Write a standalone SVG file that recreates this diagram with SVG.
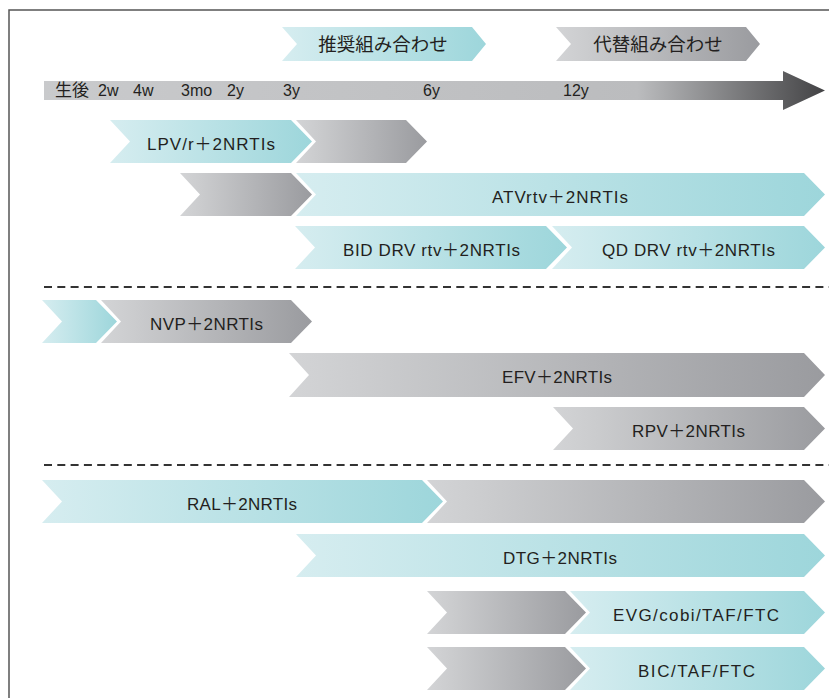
<svg xmlns="http://www.w3.org/2000/svg" width="829" height="698" viewBox="0 0 829 698">
<style>
.t{font-family:"Liberation Sans","Noto Sans CJK JP",sans-serif;font-size:17px;fill:#231f20;text-anchor:middle}
.ax{font-family:"Liberation Sans","Noto Sans CJK JP",sans-serif;font-size:16px;fill:#231f20}
.lg{font-family:"Noto Sans CJK JP",sans-serif;font-size:18.5px;fill:#231f20;text-anchor:middle}
.c{fill:url(#gc)}
.g{fill:url(#gg)}
.dash{stroke:#333;stroke-width:2;stroke-dasharray:8 5.3;fill:none}
</style>
<defs>
<linearGradient id="gc" x1="0" y1="0" x2="1" y2="0">
<stop offset="0" stop-color="#d6edf0"/>
<stop offset="1" stop-color="#9dd6db"/>
</linearGradient>
<linearGradient id="gg" x1="0" y1="0" x2="1" y2="0">
<stop offset="0" stop-color="#d3d4d6"/>
<stop offset="0.15" stop-color="#cbccce"/>
<stop offset="1" stop-color="#9a9b9f"/>
</linearGradient>
<linearGradient id="gt" gradientUnits="userSpaceOnUse" x1="44" y1="0" x2="825" y2="0">
<stop offset="0" stop-color="#c9cacc"/>
<stop offset="0.76" stop-color="#bbbcbe"/>
<stop offset="1" stop-color="#434345"/>
</linearGradient>
</defs>
<rect x="9" y="10" width="840" height="700" fill="none" stroke="#555" stroke-width="1.5"/>

<g id="legend-recommended">
<path class="c" d="M282,27 L472,27 L486,44 L472,61 L282,61 L297,44 Z"/>
<text class="lg" x="383" y="51">推奨組み合わせ</text>
</g>
<g id="legend-alternative">
<path class="g" d="M556,27 L746,27 L760,44 L746,61 L556,61 L571,44 Z"/>
<text class="lg" x="658" y="51">代替組み合わせ</text>
</g>

<g id="timeline">
<path fill="url(#gt)" d="M44,81 L783,81 L783,71 L825,90.5 L783,110 L783,100 L44,100 Z"/>
<text class="ax" x="55" y="96" style="font-family:'Noto Sans CJK JP',sans-serif;font-size:17px">生後</text>
<text class="ax" x="98" y="96">2w</text>
<text class="ax" x="133" y="96">4w</text>
<text class="ax" x="181" y="96">3mo</text>
<text class="ax" x="227" y="96">2y</text>
<text class="ax" x="283" y="96">3y</text>
<text class="ax" x="423" y="96">6y</text>
<text class="ax" x="563" y="96">12y</text>
</g>

<g id="connectors">
<line class="dash" x1="44" y1="287" x2="829" y2="287"/>
<line class="dash" x1="44" y1="465" x2="829" y2="465"/>
</g>

<g id="row-lpv">
<path class="c" d="M110,120 L291,120 L312,141.5 L291,163 L110,163 L130,141.5 Z"/>
<path class="g" d="M296,120 L406,120 L427,141.5 L406,163 L296,163 L316,141.5 Z"/>
<text class="t" x="211" y="150" textLength="128" lengthAdjust="spacing">LPV/r＋2NRTIs</text>
</g>
<g id="row-atv">
<path class="g" d="M180,173 L291,173 L312,194.5 L291,216 L180,216 L200,194.5 Z"/>
<path class="c" d="M296,173 L804,173 L825,194.5 L804,216 L296,216 L316,194.5 Z"/>
<text class="t" x="560" y="202.5" textLength="136" lengthAdjust="spacing">ATVrtv＋2NRTIs</text>
</g>
<g id="row-drv">
<path class="c" d="M295,226 L546,226 L567,247.5 L546,269 L295,269 L315,247.5 Z"/>
<path class="c" d="M552,226 L804,226 L825,247.5 L804,269 L552,269 L572,247.5 Z"/>
<text class="t" x="431.5" y="255.5" textLength="177" lengthAdjust="spacing">BID DRV rtv＋2NRTIs</text>
<text class="t" x="688.5" y="255.5" textLength="173" lengthAdjust="spacing">QD DRV rtv＋2NRTIs</text>
</g>
<g id="row-nvp">
<path class="c" d="M42,300 L96,300 L117,321.5 L96,343 L42,343 L62,321.5 Z"/>
<path class="g" d="M101,300 L291,300 L312,321.5 L291,343 L101,343 L121,321.5 Z"/>
<text class="t" x="206.5" y="329.5" textLength="113" lengthAdjust="spacing">NVP＋2NRTIs</text>
</g>
<g id="row-efv">
<path class="g" d="M289,353 L804,353 L825,375 L804,397 L289,397 L309,375 Z"/>
<text class="t" x="557" y="383" textLength="110" lengthAdjust="spacing">EFV＋2NRTIs</text>
</g>
<g id="row-rpv">
<path class="g" d="M553,407 L804,407 L825,428.5 L804,450 L553,450 L573,428.5 Z"/>
<text class="t" x="688.5" y="436.5" textLength="113" lengthAdjust="spacing">RPV＋2NRTIs</text>
</g>
<g id="row-ral">
<path class="c" d="M42,480 L422,480 L443,501.5 L422,523 L42,523 L62,501.5 Z"/>
<path class="g" d="M427,480 L804,480 L825,501.5 L804,523 L427,523 L447,501.5 Z"/>
<text class="t" x="242" y="509.5" textLength="110" lengthAdjust="spacing">RAL＋2NRTIs</text>
</g>
<g id="row-dtg">
<path class="c" d="M296,534 L804,534 L825,555.5 L804,577 L296,577 L316,555.5 Z"/>
<text class="t" x="560" y="563.5" textLength="114" lengthAdjust="spacing">DTG＋2NRTIs</text>
</g>
<g id="row-evg">
<path class="g" d="M427,591 L565,591 L586,612.5 L565,634 L427,634 L447,612.5 Z"/>
<path class="c" d="M570,591 L804,591 L825,612.5 L804,634 L570,634 L590,612.5 Z"/>
<text class="t" x="696" y="620.5" textLength="166" lengthAdjust="spacing">EVG/cobi/TAF/FTC</text>
</g>
<g id="row-bic">
<path class="g" d="M427,647 L565,647 L586,668.5 L565,690 L427,690 L447,668.5 Z"/>
<path class="c" d="M570,647 L804,647 L825,668.5 L804,690 L570,690 L590,668.5 Z"/>
<text class="t" x="696.5" y="676.5" textLength="117" lengthAdjust="spacing">BIC/TAF/FTC</text>
</g>
</svg>
